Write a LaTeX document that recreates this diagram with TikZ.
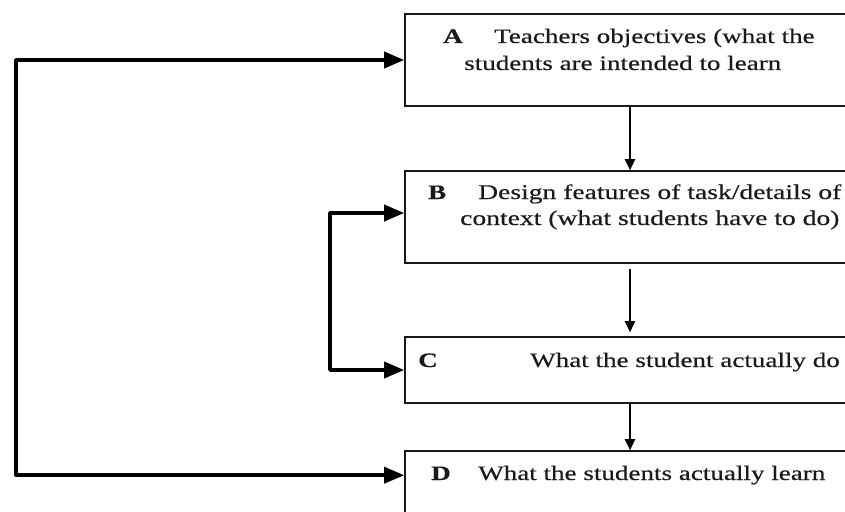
\documentclass[tikz,border=0pt]{standalone}
\usepackage{fontspec}
\setmainfont[FakeStretch=1.32,FakeBold=0.4]{Liberation Serif}
\usetikzlibrary{arrows.meta}
\definecolor{ink}{HTML}{1A1A1A}
\tikzset{
  box/.style={draw=ink, line width=1.6pt, minimum width=450pt, inner sep=0pt},
  txt/.style={anchor=base west, inner sep=0pt, text=ink, font=\fontsize{20.5pt}{24pt}\selectfont},
  bigtxt/.style={anchor=base west, inner sep=0pt, text=ink, font=\fontsize{20.9pt}{24pt}\selectfont},
  lbl/.style={anchor=base west, inner sep=0pt, text=ink, font=\fontsize{20.5pt}{24pt}\selectfont\bfseries},
  loopline/.style={line width=3.5pt, draw=black, line join=round, {Triangle[length=20pt,width=16pt]}-{Triangle[length=20pt,width=16pt]}},
  downarrow/.style={line width=2pt, draw=black, -{Triangle[length=11pt,width=10pt]}}
}
\begin{document}
\begin{tikzpicture}[x=1pt,y=-1pt]
\useasboundingbox (0,0) rectangle (845,511);
\clip (0,0) rectangle (845,511);
\fill[white] (0,0) rectangle (845,511);
% boxes
\node[box, minimum height=92pt] (A) at (630,60) {};
\node[box, minimum height=92pt] (B) at (630,217) {};
\node[box, minimum height=66pt] (C) at (630,370) {};
\node[box, minimum height=100pt] (D) at (630,501) {};
% texts
\node[lbl] (Al) at (443,43) {A};
\node[txt] (A1) at (494,43) {Teachers objectives (what the};
\node[txt] (A2) at (464,70) {students are intended to learn};
\node[lbl] (Bl) at (428,199) {B};
\node[bigtxt] (B1) at (478,199) {Design features of task/details of};
\node[bigtxt] (B2) at (460,225) {context (what students have to do)};
\node[lbl] (Cl) at (418,367) {C};
\node[txt] (C1) at (530,367) {What the student actually do};
\node[lbl] (Dl) at (431,480) {D};
\node[txt] (D1) at (478,480) {What the students actually learn};
% ports
\coordinate (outer) at (16,0);
\coordinate (inner) at (330,0);
\coordinate (Aport) at (A.west);
\coordinate (Bport) at ([yshift=4pt]B.west);
\coordinate (Cport) at (C.west);
\coordinate (Dport) at ([yshift=-25pt]D.north west);
% loops
\draw[loopline] (Aport) -- (Aport -| outer) -- (Dport -| outer) -- (Dport);
\draw[loopline] (Bport) -- (Bport -| inner) -- (Cport -| inner) -- (Cport);
% vertical arrows
\draw[downarrow] (A.south) -- (B.north);
\draw[downarrow, shorten <=5pt, shorten >=4pt] (B.south) -- (C.north);
\draw[downarrow] (C.south) -- (D.north);
\end{tikzpicture}
\end{document}
